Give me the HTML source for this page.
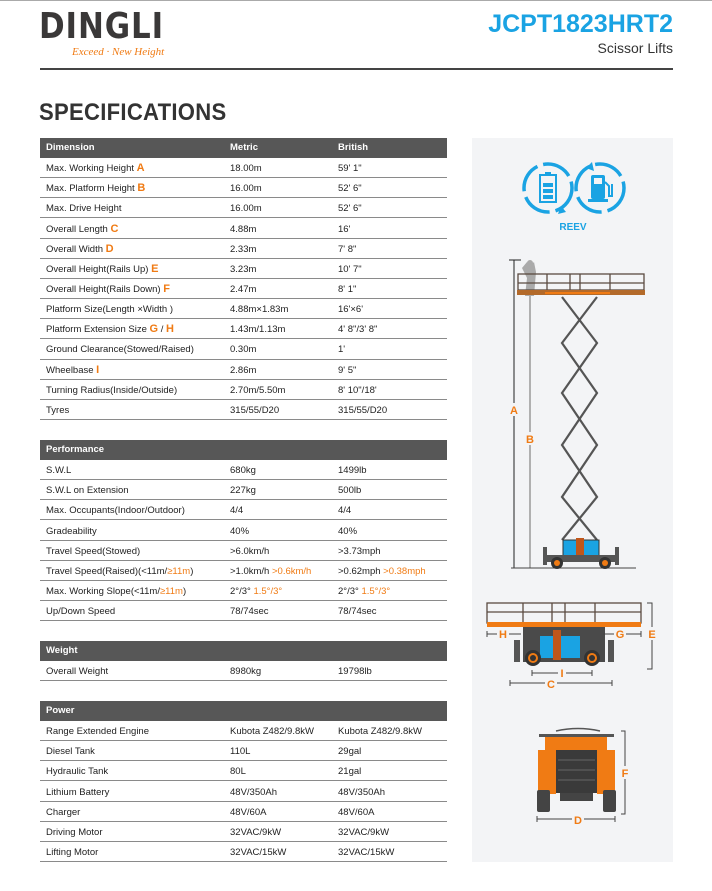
<!DOCTYPE html>
<html><head><meta charset="utf-8"><style>
*{margin:0;padding:0;box-sizing:border-box}
body{width:712px;height:891px;background:#fff;position:relative;overflow:hidden;font-family:"Liberation Sans",Arial,sans-serif;color:#222}
.abs{position:absolute}
.hdr{position:absolute;left:40px;width:407px;height:20px;background:#575757;color:#fff;font-weight:bold;font-size:9.5px;line-height:20px}
.row{position:absolute;left:40px;width:407px;height:20.15px;border-bottom:1px solid #8a8a8a;font-size:9.5px;line-height:21px}
.c1{position:absolute;left:6px}.c2{position:absolute;left:190px}.c3{position:absolute;left:298px}
.o{color:#f07b14;font-weight:bold;font-size:11px}
.oo{color:#f07b14}
</style></head><body>
<div class="abs" style="left:0;top:0;width:712px;height:1px;background:#aaa"></div>
<div class="abs" style="left:39px;top:9px;font-size:36px;line-height:36px;font-weight:900;color:#3a3838;letter-spacing:1px;transform:scaleX(0.86);transform-origin:left;font-family:'DejaVu Sans',sans-serif">DINGLI</div>
<div class="abs" style="left:72px;top:46px;font-size:11px;font-style:italic;color:#f07b14;font-family:'Liberation Serif',serif">Exceed · New Height</div>
<div class="abs" style="right:39px;top:10px;font-size:25px;font-weight:bold;color:#1aa3e3">JCPT1823HRT2</div>
<div class="abs" style="right:39px;top:40px;font-size:14px;color:#333">Scissor Lifts</div>
<div class="abs" style="left:40px;top:68px;width:633px;height:2px;background:#444"></div>
<div class="abs" style="left:39px;top:99px;font-size:24px;font-weight:bold;color:#333;letter-spacing:0.3px;transform:scaleX(0.92);transform-origin:left">SPECIFICATIONS</div>

<div class="hdr" style="top:138px"><span class="c1">Dimension</span><span class="c2">Metric</span><span class="c3">British</span></div>
<div class="row" style="top:158px"><span class="c1">Max. Working Height <span class="o">A</span></span><span class="c2">18.00m</span><span class="c3">59' 1"</span></div>
<div class="row" style="top:178.2px"><span class="c1">Max. Platform Height <span class="o">B</span></span><span class="c2">16.00m</span><span class="c3">52' 6"</span></div>
<div class="row" style="top:198.3px"><span class="c1">Max. Drive Height</span><span class="c2">16.00m</span><span class="c3">52' 6"</span></div>
<div class="row" style="top:218.5px"><span class="c1">Overall Length <span class="o">C</span></span><span class="c2">4.88m</span><span class="c3">16'</span></div>
<div class="row" style="top:238.6px"><span class="c1">Overall Width <span class="o">D</span></span><span class="c2">2.33m</span><span class="c3">7' 8"</span></div>
<div class="row" style="top:258.8px"><span class="c1">Overall Height(Rails Up) <span class="o">E</span></span><span class="c2">3.23m</span><span class="c3">10' 7"</span></div>
<div class="row" style="top:278.9px"><span class="c1">Overall Height(Rails Down) <span class="o">F</span></span><span class="c2">2.47m</span><span class="c3">8' 1"</span></div>
<div class="row" style="top:299.1px"><span class="c1">Platform Size(Length ×Width )</span><span class="c2">4.88m×1.83m</span><span class="c3">16'×6'</span></div>
<div class="row" style="top:319.2px"><span class="c1">Platform Extension Size <span class="o">G</span> / <span class="o">H</span></span><span class="c2">1.43m/1.13m</span><span class="c3">4' 8"/3' 8"</span></div>
<div class="row" style="top:339.4px"><span class="c1">Ground Clearance(Stowed/Raised)</span><span class="c2">0.30m</span><span class="c3">1'</span></div>
<div class="row" style="top:359.5px"><span class="c1">Wheelbase <span class="o">I</span></span><span class="c2">2.86m</span><span class="c3">9' 5"</span></div>
<div class="row" style="top:379.7px"><span class="c1">Turning Radius(Inside/Outside)</span><span class="c2">2.70m/5.50m</span><span class="c3">8' 10"/18'</span></div>
<div class="row" style="top:399.8px"><span class="c1">Tyres</span><span class="c2">315/55/D20</span><span class="c3">315/55/D20</span></div>

<div class="hdr" style="top:440px"><span class="c1">Performance</span></div>
<div class="row" style="top:460px"><span class="c1">S.W.L</span><span class="c2">680kg</span><span class="c3">1499lb</span></div>
<div class="row" style="top:480.2px"><span class="c1">S.W.L on Extension</span><span class="c2">227kg</span><span class="c3">500lb</span></div>
<div class="row" style="top:500.3px"><span class="c1">Max. Occupants(Indoor/Outdoor)</span><span class="c2">4/4</span><span class="c3">4/4</span></div>
<div class="row" style="top:520.5px"><span class="c1">Gradeability</span><span class="c2">40%</span><span class="c3">40%</span></div>
<div class="row" style="top:540.6px"><span class="c1">Travel Speed(Stowed)</span><span class="c2">&gt;6.0km/h</span><span class="c3">&gt;3.73mph</span></div>
<div class="row" style="top:560.8px"><span class="c1">Travel Speed(Raised)(&lt;11m/<span class="oo">≥11m</span>)</span><span class="c2">&gt;1.0km/h <span class="oo">&gt;0.6km/h</span></span><span class="c3">&gt;0.62mph <span class="oo">&gt;0.38mph</span></span></div>
<div class="row" style="top:580.9px"><span class="c1">Max. Working Slope(&lt;11m/<span class="oo">≥11m</span>)</span><span class="c2">2°/3° <span class="oo">1.5°/3°</span></span><span class="c3">2°/3° <span class="oo">1.5°/3°</span></span></div>
<div class="row" style="top:601.1px"><span class="c1">Up/Down Speed</span><span class="c2">78/74sec</span><span class="c3">78/74sec</span></div>

<div class="hdr" style="top:641px"><span class="c1">Weight</span></div>
<div class="row" style="top:661px"><span class="c1">Overall Weight</span><span class="c2">8980kg</span><span class="c3">19798lb</span></div>

<div class="hdr" style="top:701px"><span class="c1">Power</span></div>
<div class="row" style="top:721px"><span class="c1">Range Extended Engine</span><span class="c2">Kubota Z482/9.8kW</span><span class="c3">Kubota Z482/9.8kW</span></div>
<div class="row" style="top:741.2px"><span class="c1">Diesel Tank</span><span class="c2">110L</span><span class="c3">29gal</span></div>
<div class="row" style="top:761.3px"><span class="c1">Hydraulic Tank</span><span class="c2">80L</span><span class="c3">21gal</span></div>
<div class="row" style="top:781.5px"><span class="c1">Lithium Battery</span><span class="c2">48V/350Ah</span><span class="c3">48V/350Ah</span></div>
<div class="row" style="top:801.6px"><span class="c1">Charger</span><span class="c2">48V/60A</span><span class="c3">48V/60A</span></div>
<div class="row" style="top:821.8px"><span class="c1">Driving Motor</span><span class="c2">32VAC/9kW</span><span class="c3">32VAC/9kW</span></div>
<div class="row" style="top:841.9px"><span class="c1">Lifting Motor</span><span class="c2">32VAC/15kW</span><span class="c3">32VAC/15kW</span></div>

<svg class="abs" style="left:0;top:0" width="712" height="891" font-family="Liberation Sans, Arial, sans-serif">
<rect x="472" y="138" width="201" height="724" fill="#f3f4f6"/>
<g fill="none" stroke="#1aa3e3" stroke-width="3.5">
<circle cx="548" cy="188" r="24" stroke-dasharray="30 6"/>
<circle cx="600" cy="188" r="24" stroke-dasharray="30 6"/>
</g>
<polygon points="561,206 566,212 558,214" fill="#1aa3e3"/>
<polygon points="586,168 592,162 594,171" fill="#1aa3e3"/>
<rect x="540" y="175" width="16" height="27" fill="none" stroke="#1aa3e3" stroke-width="2"/>
<rect x="545" y="172" width="6" height="3" fill="#1aa3e3"/>
<rect x="543" y="183" width="10" height="4" fill="#1aa3e3"/><rect x="543" y="189" width="10" height="4" fill="#1aa3e3"/><rect x="543" y="195" width="10" height="4" fill="#1aa3e3"/>
<rect x="591" y="175" width="14" height="24" rx="2" fill="#1aa3e3"/><rect x="594" y="178" width="8" height="6" fill="#f3f4f6"/>
<rect x="588" y="199" width="20" height="3" fill="#1aa3e3"/>
<path d="M605 182 L609 186 L609 196 L612 196 L612 184" fill="none" stroke="#1aa3e3" stroke-width="2"/>
<text x="573" y="230" font-size="10" font-weight="bold" fill="#1aa3e3" text-anchor="middle">REEV</text>
<line x1="514" y1="260" x2="514" y2="568" stroke="#222" stroke-width="1"/>
<line x1="509" y1="260" x2="521" y2="260" stroke="#222"/>
<line x1="530" y1="296" x2="530" y2="568" stroke="#999" stroke-width="1.5"/>
<line x1="511" y1="568" x2="636" y2="568" stroke="#444"/>
<rect x="508" y="403" width="12" height="13" fill="#f3f4f6"/><text x="514" y="414" font-size="11" font-weight="bold" fill="#f07b14" text-anchor="middle">A</text>
<rect x="524" y="432" width="12" height="13" fill="#f3f4f6"/><text x="530" y="443" font-size="11" font-weight="bold" fill="#f07b14" text-anchor="middle">B</text>
<path d="M525 296 L527 278 L522 268 L527 262 L530 266 L534 262 L536 272 L534 296 Z" fill="#aaa"/>
<circle cx="530" cy="263" r="3" fill="#aaa"/>
<g stroke="#5a4a40" stroke-width="1.3" fill="none">
<rect x="518" y="274" width="126" height="16"/><line x1="518" y1="283" x2="644" y2="283"/>
<line x1="547" y1="274" x2="547" y2="290"/><line x1="570" y1="274" x2="570" y2="290"/><line x1="580" y1="274" x2="580" y2="290"/><line x1="610" y1="274" x2="610" y2="290"/>
</g>
<rect x="517" y="290" width="128" height="5" fill="#b36a2a"/>
<rect x="545" y="292" width="65" height="2" fill="#f07b14"/>
<g stroke="#555" stroke-width="2.2" fill="none">
<polyline points="562,297 597,343 562,393 597,445 562,497 597,540"/>
<polyline points="597,297 562,343 597,393 562,445 597,497 562,540"/>
</g>
<rect x="563" y="540" width="36" height="18" fill="#1aa3e3" stroke="#333"/>
<rect x="576" y="538" width="8" height="20" fill="#c0561a"/>
<rect x="545" y="555" width="70" height="7" fill="#555"/>
<rect x="543" y="547" width="4" height="18" fill="#555"/><rect x="615" y="547" width="4" height="18" fill="#555"/>
<circle cx="557" cy="563" r="6" fill="#333"/><circle cx="557" cy="563" r="3" fill="#f07b14"/>
<circle cx="605" cy="563" r="6" fill="#333"/><circle cx="605" cy="563" r="3" fill="#f07b14"/>
<g stroke="#5a4a40" stroke-width="1.3" fill="none">
<rect x="487" y="603" width="154" height="20"/><line x1="487" y1="612" x2="641" y2="612"/>
<line x1="523" y1="603" x2="523" y2="623"/><line x1="552" y1="603" x2="552" y2="623"/><line x1="565" y1="603" x2="565" y2="623"/><line x1="595" y1="603" x2="595" y2="623"/>
</g>
<rect x="487" y="622" width="154" height="5" fill="#f07b14"/>
<rect x="523" y="627" width="82" height="35" fill="#4a4a4a"/>
<rect x="540" y="636" width="40" height="22" fill="#1aa3e3"/>
<rect x="553" y="630" width="8" height="30" fill="#c0561a"/>
<rect x="514" y="640" width="6" height="22" fill="#555"/><rect x="608" y="640" width="6" height="22" fill="#555"/>
<circle cx="533" cy="658" r="8" fill="#333"/><circle cx="533" cy="658" r="5" fill="#f07b14"/><circle cx="533" cy="658" r="3" fill="#333"/>
<circle cx="592" cy="658" r="8" fill="#333"/><circle cx="592" cy="658" r="5" fill="#f07b14"/><circle cx="592" cy="658" r="3" fill="#333"/>
<g stroke="#444" stroke-width="1" fill="none">
<polyline points="647,603 652,603 652,669 647,669"/>
<line x1="487" y1="634" x2="521" y2="634"/><line x1="487" y1="631" x2="487" y2="637"/>
<line x1="603" y1="634" x2="641" y2="634"/><line x1="641" y1="631" x2="641" y2="637"/>
<line x1="532" y1="673" x2="592" y2="673"/><line x1="532" y1="670" x2="532" y2="676"/><line x1="592" y1="670" x2="592" y2="676"/>
<line x1="510" y1="683" x2="612" y2="683"/><line x1="510" y1="680" x2="510" y2="686"/><line x1="612" y1="680" x2="612" y2="686"/>
<polyline points="621,731 625,731 625,814 621,814"/>
<line x1="537" y1="819" x2="615" y2="819"/><line x1="537" y1="816" x2="537" y2="822"/><line x1="615" y1="816" x2="615" y2="822"/>
</g>
<g font-size="11" font-weight="bold" fill="#f07b14" text-anchor="middle">
<rect x="646" y="627" width="12" height="13" fill="#f3f4f6"/><text x="652" y="638">E</text>
<rect x="497" y="628" width="12" height="12" fill="#f3f4f6"/><text x="503" y="638">H</text>
<rect x="614" y="628" width="12" height="12" fill="#f3f4f6"/><text x="620" y="638">G</text>
<rect x="558" y="667" width="8" height="12" fill="#f3f4f6"/><text x="562" y="677">I</text>
<rect x="545" y="677" width="12" height="12" fill="#f3f4f6"/><text x="551" y="688">C</text>
<rect x="619" y="766" width="12" height="13" fill="#f3f4f6"/><text x="625" y="777">F</text>
<rect x="572" y="813" width="12" height="12" fill="#f3f4f6"/><text x="578" y="824">D</text>
</g>
<path d="M556 731 Q578 726 600 731" stroke="#555" fill="none" stroke-width="1.5"/>
<rect x="539" y="734" width="75" height="3" fill="#555"/>
<rect x="545" y="737" width="62" height="13" fill="#f07b14"/>
<rect x="556" y="750" width="41" height="43" fill="#3a3a3a"/>
<g stroke="#666" stroke-width="1"><line x1="558" y1="760" x2="595" y2="760"/><line x1="558" y1="770" x2="595" y2="770"/><line x1="558" y1="780" x2="595" y2="780"/></g>
<rect x="538" y="750" width="18" height="44" fill="#f07b14"/><rect x="597" y="750" width="18" height="44" fill="#f07b14"/>
<rect x="560" y="793" width="33" height="8" fill="#444"/>
<rect x="537" y="790" width="13" height="22" rx="2" fill="#444"/><rect x="603" y="790" width="13" height="22" rx="2" fill="#444"/>
</svg>
</body></html>
